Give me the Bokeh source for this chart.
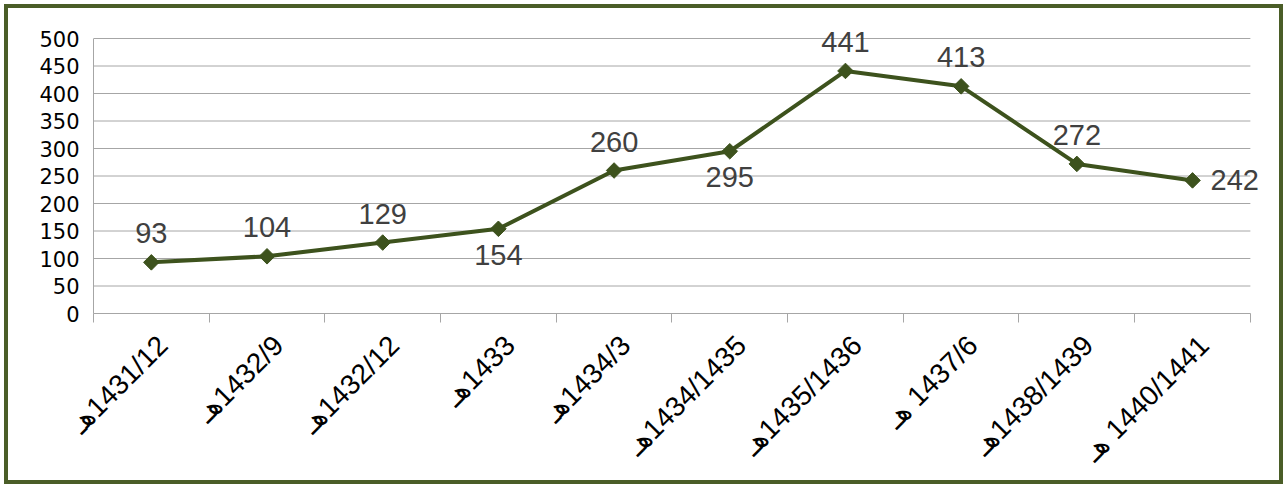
from math import pi
from bokeh.plotting import figure
from bokeh.models import ColumnDataSource, FixedTicker, Range1d, LabelSet
from bokeh.core.properties import value
from bokeh.embed import file_html
from bokeh.resources import INLINE

# ---- data ----
categories = ["هـ1431/12", "هـ1432/9", "هـ1432/12", "هـ1433", "هـ1434/3",
              "هـ1434/1435", "هـ1435/1436", "هـ 1437/6", "هـ1438/1439", "هـ 1440/1441"]
values = [93, 104, 129, 154, 260, 295, 441, 413, 272, 242]
y_ticks = [0, 50, 100, 150, 200, 250, 300, 350, 400, 450, 500]
label_pos = ["above", "above", "above", "below", "above", "below", "above", "above", "above", "right"]

LINE = "#3d521d"
GRID = "#a6a6a6"
LABEL_SHIFT = 0.1   # category labels sit slightly right of centre, as in the reference
N = len(categories)
Y_MAX = y_ticks[-1]
X_PAD = 0.2         # room right of the axis for the last data label
Y_PAD = 20          # room above the top gridline for data labels

xs = [i + 0.5 for i in range(N)]
label_ticks = [x + LABEL_SHIFT for x in xs]
# LRM after the Arabic letter keeps it visually before the numbers
disp = [c.replace("هـ", "هـ\u200e") for c in categories]

p = figure(frame_width=1180, frame_height=286,
           min_border_left=85, min_border_right=6, min_border_top=19, min_border_bottom=164,
           x_range=Range1d(0, N + X_PAD), y_range=Range1d(0, Y_MAX + Y_PAD),
           output_backend="svg", toolbar_location=None,
           background_fill_color="white", border_fill_color="white")
p.styles = {"border": "4px solid #4a5d27", "margin-left": "4px", "margin-top": "4px"}
p.outline_line_color = None
p.xgrid.visible = False
p.ygrid.visible = False

# horizontal gridlines limited to the category span
p.segment(x0=[0] * len(y_ticks), x1=[N] * len(y_ticks), y0=y_ticks, y1=y_ticks,
          line_color=GRID, line_width=1, level="underlay")

# y axis
p.yaxis.ticker = FixedTicker(ticks=y_ticks)
p.yaxis.bounds = (0, Y_MAX)
p.yaxis.axis_line_color = GRID
p.yaxis.major_tick_line_color = None
p.yaxis.minor_tick_line_color = None
p.yaxis.major_tick_out = 0
p.yaxis.major_tick_in = 0
p.yaxis.major_label_standoff = 14
p.yaxis.major_label_text_font = "DejaVu Sans"
p.yaxis.major_label_text_font_size = "21px"
p.yaxis.major_label_text_color = "#000000"

# x axis
p.xaxis.ticker = FixedTicker(ticks=label_ticks, minor_ticks=list(range(N + 1)))
p.xaxis.bounds = (0, N)
p.xaxis.major_label_overrides = {x: lab for x, lab in zip(label_ticks, disp)}
p.xaxis.axis_line_color = GRID
p.xaxis.major_tick_line_color = None
p.xaxis.major_tick_out = 0
p.xaxis.major_tick_in = 0
p.xaxis.minor_tick_line_color = GRID
p.xaxis.minor_tick_out = 9
p.xaxis.minor_tick_in = 0
p.xaxis.major_label_orientation = pi / 4
p.xaxis.major_label_standoff = 18
p.xaxis.major_label_text_font = "Liberation Sans"
p.xaxis.major_label_text_font_size = "28px"
p.xaxis.major_label_text_color = "#000000"

# series
src = ColumnDataSource(dict(x=xs, y=values))
p.line("x", "y", source=src, line_color=LINE, line_width=4)
p.scatter("x", "y", source=src, marker="square", angle=pi / 4, size=11,
          fill_color=LINE, line_color=LINE)

# data labels
offsets = {"above": (0, 19, "center", "bottom"),
           "below": (0, -16, "center", "top"),
           "right": (18, 0, "left", "middle")}
for pos, (dx, dy, al, bl) in offsets.items():
    idx = [i for i, lp in enumerate(label_pos) if lp == pos]
    s = ColumnDataSource(dict(x=[xs[i] for i in idx], y=[values[i] for i in idx],
                              t=[str(values[i]) for i in idx]))
    p.add_layout(LabelSet(x="x", y="y", text="t", source=s, x_offset=dx, y_offset=dy,
                          text_align=al, text_baseline=bl,
                          text_font=value("Liberation Sans"), text_font_size="29px",
                          text_color="#404040"))

open("out.html", "w").write(file_html(p, INLINE))
